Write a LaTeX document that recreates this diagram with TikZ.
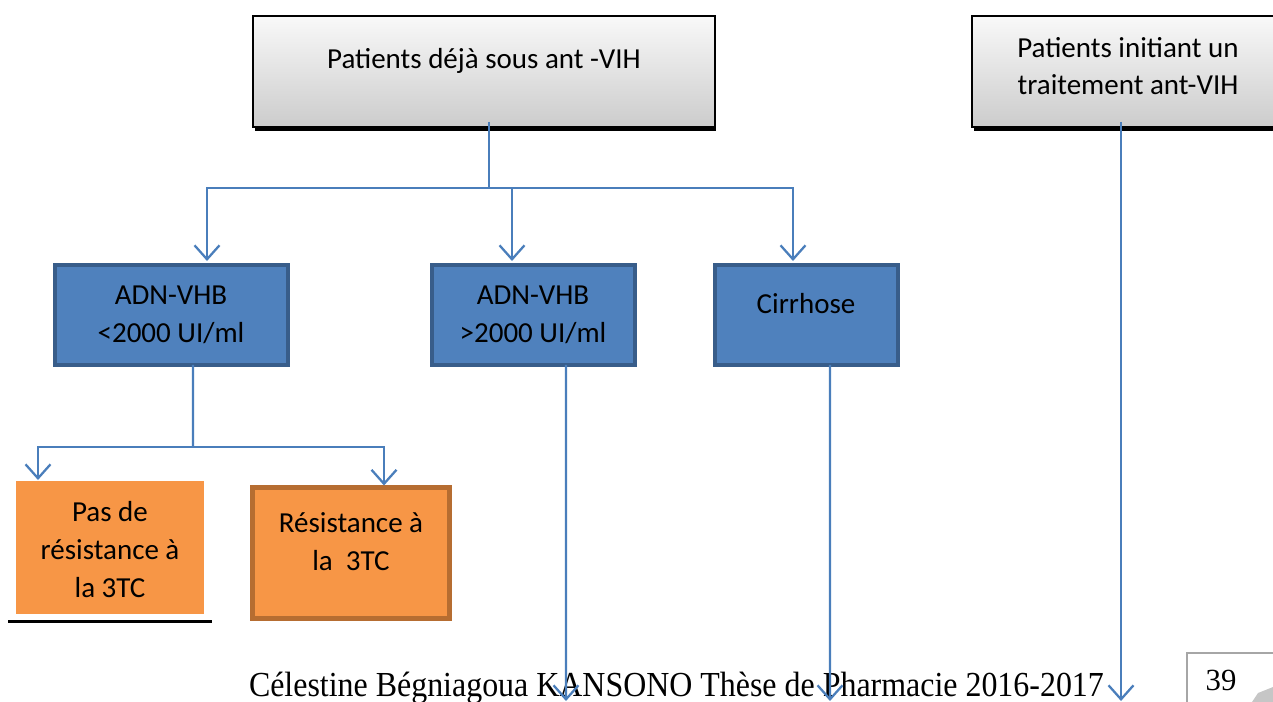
\documentclass[tikz,border=0pt]{standalone}
\usepackage{fontspec}
\setmainfont{Carlito}
\newfontfamily\timesfont{Liberation Serif}
\usetikzlibrary{arrows.meta,shadows}
\definecolor{lineblue}{HTML}{4A7EBB}
\definecolor{boxblue}{HTML}{4F81BD}
\definecolor{borderblue}{HTML}{385D8A}
\definecolor{boxorange}{HTML}{F79646}
\definecolor{borderorange}{HTML}{B66D31}
\begin{document}
\begin{tikzpicture}[x=0.02cm,y=-0.02cm,
  every node/.style={inner sep=0pt, outer sep=0pt},
  txt/.style={font=\fontsize{16.5pt}{21.5pt}\selectfont, align=center},
  graybox/.style={draw=black, line width=0.7pt, top color=gray!5, bottom color=gray!40,
     minimum height=2.22cm,
     drop shadow={shadow xshift=0.03cm, shadow yshift=-0.08cm, fill=black, opacity=1}},
  bluebox/.style={draw=borderblue, line width=2.3pt, fill=boxblue, minimum height=2.0cm},
  orangebox/.style={fill=boxorange},
  conn/.style={draw=lineblue, line width=1.3pt},
  arr/.style={conn, -{Straight Barb[length=0.28cm,width=0.5cm]}}
]
\useasboundingbox (0,0) rectangle (1273,702);
\clip (0,0) rectangle (1273,702);

% gray boxes
\node[graybox, minimum width=9.24cm] (box1) at (484,71.5) {};
\node[txt] (box1t) at (484,61) {Patients déjà sous ant -VIH};
\node[graybox, minimum width=6.32cm] (box2) at (1130,71.5) {};
\node[txt] (box2t) at (1128,66) {Patients initiant un\\traitement ant-VIH};

% blue boxes
\node[bluebox, minimum width=4.66cm] (box3) at (171.5,315) {};
\node[txt] (box3t) at (171,315) {ADN-VHB\\<2000 UI/ml};
\node[bluebox, minimum width=4.06cm] (box4) at (533.5,315) {};
\node[txt] (box4t) at (533,315) {ADN-VHB\\>2000 UI/ml};
\node[bluebox, minimum width=3.66cm] (box5) at (806.5,315) {};
\node[txt] (box5t) at (806,304) {Cirrhose};

% orange boxes
\node[orangebox, minimum width=3.76cm, minimum height=2.66cm] (box6) at (110,547.5) {};
\node[txt] (box6t) at (110,549.5) {Pas de\\résistance à\\la 3TC};
\draw[black, line width=1.7pt] ([shift={(-8,8)}]box6.south west) -- ([shift={(8,8)}]box6.south east);
\node[orangebox, draw=borderorange, line width=2.8pt, minimum width=3.94cm, minimum height=2.62cm] (box7) at (351,553) {};
\node[txt] (box7t) at (351,542) {Résistance à\\la~~3TC};

% footer
\node[anchor=base west, font=\timesfont\fontsize{20pt}{24pt}\selectfont] (footer) at (249,696)
  {\resizebox{17.1cm}{\height}{Célestine Bégniagoua KANSONO Thèse de Pharmacie 2016-2017}};
\node[draw=gray!70, line width=0.6pt, minimum width=2.1cm, minimum height=1.4cm, anchor=north west] (pagebox) at (1187,653) {};
\node[anchor=base, font=\timesfont\fontsize{17.5pt}{20pt}\selectfont] (pagenum) at (1221,690) {39};
\fill[gray!45] (1252,702) -- (1258,693) .. controls (1263,691) and (1268,689) .. (1273,687) -- (1273,702) -- cycle;

% connectors
\coordinate (j1) at (489,188);
\draw[conn] ([shift={(5,-5)}]box1.south) -- (j1);
\draw[arr] (j1) -| ([shift={(35.5,-4)}]box3.north);
\draw[arr] (j1) -| ([shift={(-21.5,-4)}]box4.north);
\draw[arr] (j1) -| ([shift={(-13.5,-4)}]box5.north);

\coordinate (j2) at (193,447);
\draw[conn] ([shift={(21.5,0)}]box3.south) -- (j2);
\draw[arr] (j2) -| ([shift={(-72,-1)}]box6.north);
\draw[arr] (j2) -| ([shift={(33,-2)}]box7.north);

\coordinate (e4) at (566,701);
\coordinate (e5) at (830,701);
\coordinate (e2) at (1121,701);
\draw[arr] ([shift={(32.5,0)}]box4.south) -- (e4);
\draw[arr] ([shift={(23.5,0)}]box5.south) -- (e5);
\draw[arr] ([shift={(-9,-5)}]box2.south) -- (e2);
\end{tikzpicture}
\end{document}
